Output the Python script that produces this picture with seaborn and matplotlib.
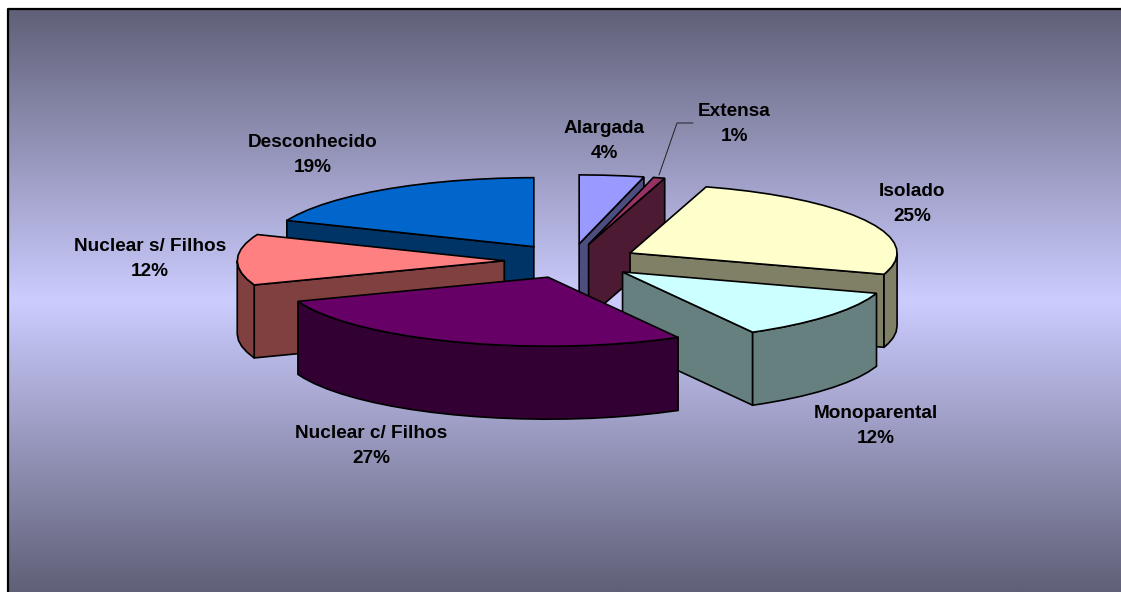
import numpy as np
import matplotlib
matplotlib.use("Agg")
import matplotlib.pyplot as plt
import matplotlib.colors as mcolors
from matplotlib.patches import Polygon
import seaborn as sns

labels = ["Alargada", "Extensa", "Isolado", "Monoparental",
          "Nuclear c/ Filhos", "Nuclear s/ Filhos", "Desconhecido"]
shares = [3.9, 0.7, 25.4, 11.9, 27.4, 11.9, 18.8]
colors = ["#9999FF", "#993366", "#FFFFCC", "#CCFFFF",
          "#660066", "#FF8080", "#0066CC"]
# back to front, the slices overlap
draw_order = [0, 1, 6, 2, 5, 3, 4]
label_pos = [(604, 141), (734, 124), (912, 204), (876, 426),
             (371, 446), (150, 259), (313, 155)]
bg_colors = ["#606078", "#CCCCFF", "#606078"]

CX, CY = 571, 261
RX, RY = 267, 69
DEPTH = 73
EXPLODE = 0.25
STEP = 5


def project(theta, apex):
    t = np.radians(theta)
    return apex[0] + RX * np.sin(t), apex[1] - RY * np.cos(t)


def rim(start, end, apex):
    angles = np.append(np.arange(start, end, STEP), end)
    return [project(a, apex) for a in angles]


def shifted(points):
    return [(x, y + DEPTH) for x, y in points]


def wall(ax, points, color, z):
    outline = list(points) + shifted(points)[::-1]
    ax.add_patch(Polygon(outline, closed=True, facecolor=color,
                         edgecolor="black", linewidth=1.2, zorder=z,
                         joinstyle="miter"))


def draw_slice(ax, start, end, color, z):
    mid = (start + end) / 2
    apex = (CX + EXPLODE * RX * np.sin(np.radians(mid)),
            CY - EXPLODE * RY * np.cos(np.radians(mid)))
    dark = tuple(c * 0.5 for c in mcolors.to_rgb(color))

    # only the walls that face the viewer
    if np.sin(np.radians(start)) < -1e-6:
        wall(ax, [apex, project(start, apex)], dark, z)
    if np.sin(np.radians(end)) > 1e-6:
        wall(ax, [apex, project(end, apex)], dark, z)
    front_start, front_end = max(start, 90), min(end, 270)
    if front_end > front_start:
        wall(ax, rim(front_start, front_end, apex), dark, z)

    top = [apex] + rim(start, end, apex)
    ax.add_patch(Polygon(top, closed=True, facecolor=color, edgecolor="black",
                         linewidth=1.2, zorder=z + 0.5, joinstyle="miter"))


def main():
    sns.set_theme(style="white")
    plt.rcParams["font.family"] = ["Liberation Sans", "DejaVu Sans"]

    fig = plt.figure(figsize=(11.21, 5.92), dpi=100, facecolor="white")
    ax = fig.add_axes([0, 0, 1, 1])
    ax.set_xlim(0, 1121)
    ax.set_ylim(592, 0)
    ax.axis("off")

    cmap = sns.blend_palette(bg_colors, as_cmap=True)
    ax.imshow(np.linspace(0, 1, 256).reshape(-1, 1), cmap=cmap, aspect="auto",
              extent=(8, 1121, 592, 9), zorder=0, interpolation="bilinear")
    ax.set_xlim(0, 1121)
    ax.set_ylim(592, 0)
    ax.plot([8, 8, 1121], [592, 9, 9], color="black", linewidth=1.6, zorder=1)

    bounds = np.cumsum([0] + shares) / sum(shares) * 360
    for z, i in enumerate(draw_order):
        draw_slice(ax, bounds[i], bounds[i + 1], colors[i], 2 + z)

    # leader line of the smallest slice
    ax.plot([659, 677, 693], [175, 123, 123], color="#222222", linewidth=0.7, zorder=20)

    for name, share, (x, y) in zip(labels, shares, label_pos):
        ax.text(x, y, f"{name}\n{round(share)}%", ha="center", va="center",
                fontsize=13.7, fontweight="bold", color="black",
                linespacing=1.62, zorder=21)

    fig.savefig("out.png", dpi=100)


if __name__ == "__main__":
    main()
